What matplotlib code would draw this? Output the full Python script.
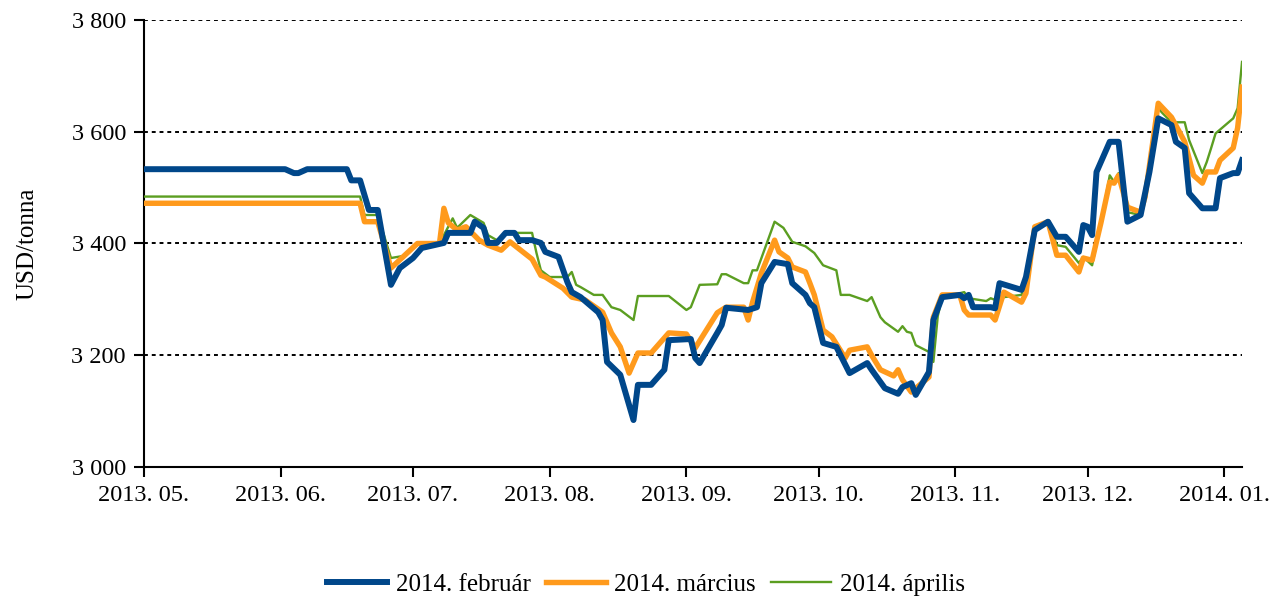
import pandas as pd
import matplotlib
matplotlib.use("Agg")
import matplotlib.pyplot as plt
import matplotlib.dates as mdates
from matplotlib.ticker import FuncFormatter

plt.rcParams['font.family'] = ['Liberation Serif', 'DejaVu Serif']

# 2014. február contract (USD/tonna)
feb_dates = ['2013-05-01', '2013-06-02', '2013-06-04', '2013-06-05', '2013-06-07', '2013-06-16',
             '2013-06-17', '2013-06-19', '2013-06-21', '2013-06-23', '2013-06-26', '2013-06-28',
             '2013-07-01', '2013-07-03', '2013-07-08', '2013-07-09', '2013-07-14', '2013-07-15',
             '2013-07-17', '2013-07-18', '2013-07-20', '2013-07-22', '2013-07-24', '2013-07-25',
             '2013-07-28', '2013-07-30', '2013-07-31', '2013-08-03', '2013-08-05', '2013-08-06',
             '2013-08-08', '2013-08-12', '2013-08-13', '2013-08-14', '2013-08-17', '2013-08-20',
             '2013-08-21', '2013-08-24', '2013-08-27', '2013-08-28', '2013-09-02', '2013-09-03',
             '2013-09-04', '2013-09-08', '2013-09-09', '2013-09-10', '2013-09-15', '2013-09-17',
             '2013-09-18', '2013-09-21', '2013-09-24', '2013-09-25', '2013-09-28', '2013-09-29',
             '2013-09-30', '2013-10-02', '2013-10-05', '2013-10-08', '2013-10-12', '2013-10-13',
             '2013-10-16', '2013-10-19', '2013-10-20', '2013-10-22', '2013-10-23', '2013-10-26',
             '2013-10-27', '2013-10-29', '2013-11-02', '2013-11-03', '2013-11-04', '2013-11-05',
             '2013-11-09', '2013-11-10', '2013-11-11', '2013-11-16', '2013-11-17', '2013-11-19',
             '2013-11-22', '2013-11-24', '2013-11-26', '2013-11-29', '2013-11-30', '2013-12-01',
             '2013-12-02', '2013-12-03', '2013-12-06', '2013-12-08', '2013-12-10', '2013-12-13',
             '2013-12-15', '2013-12-17', '2013-12-20', '2013-12-21', '2013-12-23', '2013-12-24',
             '2013-12-27', '2013-12-30', '2013-12-31', '2014-01-03', '2014-01-04', '2014-01-05']
feb_values = [3533, 3533, 3526, 3526, 3533, 3533, 3513, 3513, 3460, 3460, 3326, 3356,
              3374, 3392, 3401, 3419, 3419, 3439, 3428, 3401, 3401, 3419, 3419, 3406,
              3406, 3401, 3385, 3376, 3331, 3313, 3304, 3277, 3263, 3188, 3165, 3084,
              3147, 3147, 3174, 3227, 3229, 3195, 3186, 3240, 3254, 3285, 3281, 3286,
              3329, 3367, 3363, 3329, 3308, 3293, 3286, 3222, 3215, 3168, 3186, 3174,
              3141, 3131, 3143, 3150, 3129, 3170, 3263, 3304, 3308, 3302, 3308, 3286,
              3286, 3284, 3329, 3317, 3340, 3424, 3439, 3412, 3412, 3385, 3433, 3430,
              3415, 3528, 3582, 3582, 3439, 3451, 3528, 3624, 3612, 3582, 3571, 3490,
              3463, 3463, 3517, 3526, 3526, 3549]

# 2014. március contract
mar_dates = ['2013-05-01', '2013-06-19', '2013-06-20', '2013-06-23', '2013-06-26', '2013-07-02',
             '2013-07-07', '2013-07-08', '2013-07-09', '2013-07-11', '2013-07-13', '2013-07-16',
             '2013-07-18', '2013-07-21', '2013-07-23', '2013-07-28', '2013-07-30', '2013-07-31',
             '2013-08-04', '2013-08-06', '2013-08-09', '2013-08-13', '2013-08-15', '2013-08-17',
             '2013-08-19', '2013-08-21', '2013-08-24', '2013-08-28', '2013-09-01', '2013-09-03',
             '2013-09-08', '2013-09-10', '2013-09-14', '2013-09-15', '2013-09-16', '2013-09-18',
             '2013-09-21', '2013-09-22', '2013-09-24', '2013-09-25', '2013-09-28', '2013-09-29',
             '2013-09-30', '2013-10-02', '2013-10-04', '2013-10-07', '2013-10-08', '2013-10-12',
             '2013-10-13', '2013-10-15', '2013-10-18', '2013-10-19', '2013-10-20', '2013-10-22',
             '2013-10-26', '2013-10-27', '2013-10-29', '2013-11-02', '2013-11-03', '2013-11-04',
             '2013-11-09', '2013-11-10', '2013-11-12', '2013-11-16', '2013-11-17', '2013-11-19',
             '2013-11-22', '2013-11-24', '2013-11-26', '2013-11-29', '2013-11-30', '2013-12-02',
             '2013-12-04', '2013-12-06', '2013-12-07', '2013-12-08', '2013-12-10', '2013-12-13',
             '2013-12-14', '2013-12-17', '2013-12-20', '2013-12-23', '2013-12-25', '2013-12-27',
             '2013-12-28', '2013-12-30', '2013-12-31', '2014-01-03', '2014-01-04', '2014-01-05']
mar_values = [3472, 3472, 3439, 3439, 3356, 3400, 3400, 3463, 3437, 3424, 3430, 3406,
              3397, 3388, 3403, 3372, 3343, 3340, 3320, 3304, 3299, 3277, 3240, 3215,
              3168, 3204, 3204, 3240, 3238, 3213, 3276, 3286, 3286, 3263, 3295, 3347,
              3406, 3385, 3374, 3358, 3349, 3329, 3308, 3245, 3233, 3195, 3209, 3215,
              3200, 3174, 3163, 3174, 3156, 3134, 3161, 3268, 3308, 3308, 3281, 3272,
              3272, 3263, 3313, 3295, 3311, 3430, 3439, 3379, 3379, 3349, 3374, 3370,
              3437, 3510, 3508, 3522, 3465, 3456, 3483, 3651, 3626, 3582, 3522, 3508,
              3528, 3528, 3549, 3571, 3607, 3680]

# 2014. április contract
apr_dates = ['2013-05-01', '2013-06-19', '2013-06-20', '2013-06-23', '2013-06-26', '2013-06-29',
             '2013-07-02', '2013-07-07', '2013-07-10', '2013-07-11', '2013-07-14', '2013-07-17',
             '2013-07-18', '2013-07-20', '2013-07-22', '2013-07-28', '2013-07-29', '2013-07-30',
             '2013-08-01', '2013-08-05', '2013-08-06', '2013-08-07', '2013-08-08', '2013-08-11',
             '2013-08-13', '2013-08-15', '2013-08-17', '2013-08-20', '2013-08-21', '2013-08-28',
             '2013-09-01', '2013-09-02', '2013-09-04', '2013-09-08', '2013-09-09', '2013-09-10',
             '2013-09-14', '2013-09-15', '2013-09-16', '2013-09-17', '2013-09-21', '2013-09-23',
             '2013-09-25', '2013-09-28', '2013-09-30', '2013-10-02', '2013-10-05', '2013-10-06',
             '2013-10-08', '2013-10-12', '2013-10-13', '2013-10-15', '2013-10-16', '2013-10-19',
             '2013-10-20', '2013-10-21', '2013-10-22', '2013-10-23', '2013-10-26', '2013-10-27',
             '2013-10-28', '2013-10-29', '2013-11-02', '2013-11-03', '2013-11-04', '2013-11-08',
             '2013-11-09', '2013-11-10', '2013-11-12', '2013-11-16', '2013-11-18', '2013-11-19',
             '2013-11-22', '2013-11-24', '2013-11-26', '2013-11-29', '2013-11-30', '2013-12-02',
             '2013-12-04', '2013-12-06', '2013-12-07', '2013-12-08', '2013-12-10', '2013-12-13',
             '2013-12-17', '2013-12-18', '2013-12-20', '2013-12-23', '2013-12-24', '2013-12-27',
             '2013-12-28', '2013-12-29', '2013-12-30', '2014-01-03', '2014-01-04', '2014-01-05']
apr_values = [3484, 3484, 3451, 3451, 3374, 3378, 3400, 3400, 3445, 3428, 3451, 3437,
              3415, 3406, 3419, 3419, 3383, 3352, 3340, 3340, 3349, 3326, 3322, 3308,
              3308, 3286, 3281, 3263, 3306, 3306, 3281, 3286, 3326, 3327, 3345, 3345,
              3329, 3329, 3352, 3352, 3439, 3428, 3403, 3395, 3383, 3361, 3352, 3308,
              3308, 3297, 3304, 3268, 3259, 3242, 3252, 3242, 3240, 3218, 3206, 3188,
              3270, 3304, 3311, 3313, 3302, 3297, 3302, 3299, 3304, 3308, 3367, 3430,
              3439, 3397, 3394, 3365, 3376, 3361, 3437, 3522, 3510, 3526, 3456, 3451,
              3642, 3633, 3617, 3617, 3585, 3526, 3546, 3571, 3597, 3624, 3642, 3725]

series_names = ['2014. február', '2014. március', '2014. április']
y_ticks = [3000, 3200, 3400, 3600, 3800]
x_start, x_end = '2013-05-01', '2014-01-05'

fig = plt.figure(figsize=(12.79, 6.01), dpi=100)
ax = fig.add_axes([0.1126, 0.223, 0.8585, 0.7437])

# april first so the thicker lines sit on top of it
l_apr, = ax.plot(pd.to_datetime(apr_dates), apr_values, color='#5b9e21', lw=1.7, zorder=3)
l_mar, = ax.plot(pd.to_datetime(mar_dates), mar_values, color='#ff9a1c', lw=3.9, zorder=4)
l_feb, = ax.plot(pd.to_datetime(feb_dates), feb_values, color='#00478a', lw=4.3, zorder=5)

ax.set_xlim(pd.Timestamp(x_start), pd.Timestamp(x_end))
ax.set_ylim(y_ticks[0], y_ticks[-1])
ax.set_yticks(y_ticks)
ax.yaxis.set_major_formatter(FuncFormatter(lambda v, p: f"{int(v):,}".replace(',', ' ')))

months = pd.date_range(x_start, x_end, freq='MS')
ax.set_xticks(months)
ax.xaxis.set_major_formatter(mdates.DateFormatter('%Y. %m.'))

# dotted horizontal grid
for v in y_ticks[1:]:
    ax.axhline(v, color='black', lw=1.4, ls=(0, (2, 2)), zorder=1)

for side in ['top', 'right']:
    ax.spines[side].set_visible(False)
for side in ['left', 'bottom']:
    ax.spines[side].set_linewidth(1.5)
ax.tick_params(axis='both', direction='out', length=7, width=1.5, labelsize=17.5, pad=6)
ax.set_ylabel('USD/tonna', fontsize=18, labelpad=24)

fig.legend([l_feb, l_mar, l_apr], series_names, loc='center', bbox_to_anchor=(0.505, 0.027),
           ncol=3, frameon=False, fontsize=18, handlelength=2.4, handletextpad=0.35,
           columnspacing=0.6)

fig.savefig('out.png', dpi=100)
